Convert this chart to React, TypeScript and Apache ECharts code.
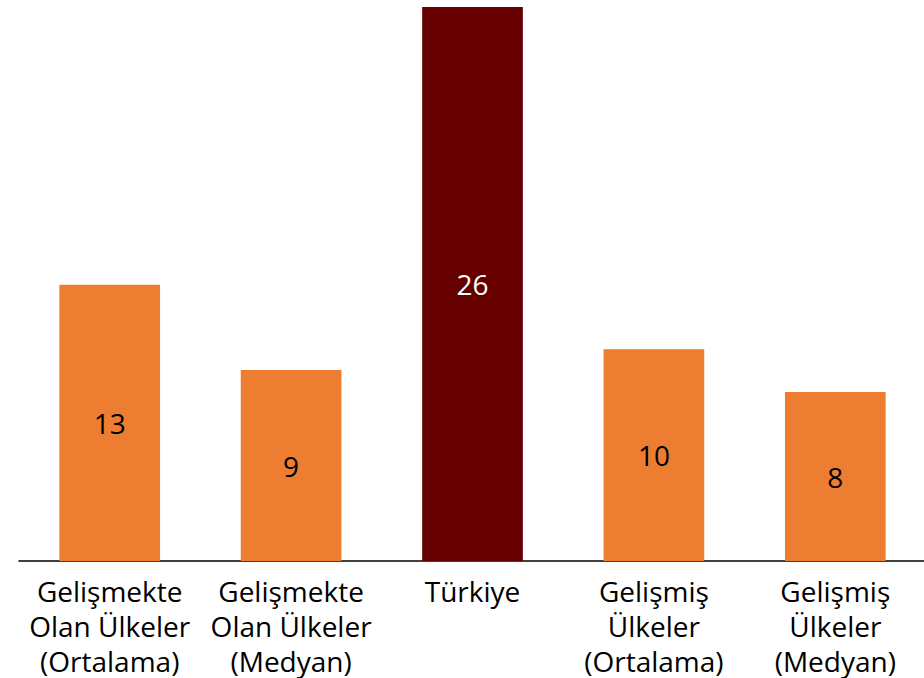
import React, { useEffect, useRef } from "react";
import * as echarts from "echarts";

const categories = [
  "Gelişmekte\nOlan Ülkeler\n(Ortalama)",
  "Gelişmekte\nOlan Ülkeler\n(Medyan)",
  "Türkiye",
  "Gelişmiş\nÜlkeler\n(Ortalama)",
  "Gelişmiş\nÜlkeler\n(Medyan)",
];
const values = [12.97, 8.96, 26, 9.94, 7.93];
const barColors = ["#ED7D31", "#ED7D31", "#660000", "#ED7D31", "#ED7D31"];
const labelColors = ["#000000", "#000000", "#FFFFFF", "#000000", "#000000"];

const FONT = "'Open Sans', 'Noto Sans', sans-serif";

export default function App() {
  const ref = useRef<HTMLDivElement>(null);
  useEffect(() => {
    if (!ref.current) return;
    const chart = echarts.init(ref.current, undefined, { renderer: "svg" });
    chart.setOption({
      animation: false,
      grid: { left: 19, right: 0, top: 7, bottom: 115.5, containLabel: false },
      xAxis: {
        type: "category",
        data: categories,
        axisLine: { show: true, lineStyle: { color: "#000", width: 1.5 } },
        axisTick: { show: false },
        axisLabel: {
          interval: 0,
          margin: 12,
          color: "#000",
          fontSize: 28,
          lineHeight: 35,
          fontFamily: FONT,
        },
      },
      yAxis: {
        type: "value",
        min: 0,
        max: 26,
        show: false,
        splitLine: { show: false },
      },
      series: [
        {
          type: "bar",
          barWidth: "55.5%",
          data: values.map((v, i) => ({
            value: v,
            itemStyle: { color: barColors[i] },
            label: { color: labelColors[i] },
          })),
          label: {
            show: true,
            position: "inside",
            fontSize: 28,
            fontFamily: FONT,
            formatter: (p: any) => Math.round(p.value).toString(),
          },
        },
      ],
    });
    return () => chart.dispose();
  }, []);
  return (
    <div
      style={{ position: "fixed", left: 0, top: 0, width: 924, height: 678, overflow: "hidden", background: "#fff" }}
    >
      <div ref={ref} style={{ width: 926, height: 678 }} />
    </div>
  );
}
